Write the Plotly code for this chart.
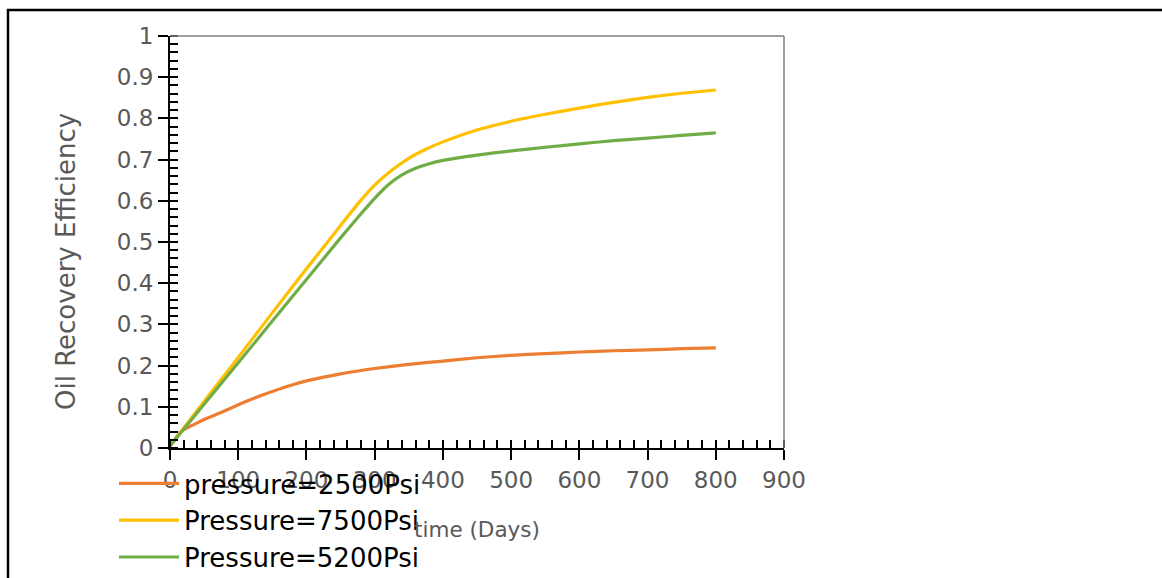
import plotly.graph_objects as go

# ---- data ----
days_2500 = [0, 5, 10, 15, 20, 30, 40, 50, 60, 80, 100, 125, 150, 175, 200, 250, 300,
             350, 400, 450, 500, 550, 600, 650, 700, 750, 800]
rec_2500 = [0.005, 0.017, 0.028, 0.038, 0.044, 0.053, 0.061, 0.069, 0.076, 0.090, 0.105,
            0.122, 0.137, 0.151, 0.163, 0.180, 0.193, 0.203, 0.211, 0.219, 0.225, 0.229,
            0.233, 0.236, 0.238, 0.241, 0.243]

days_7500 = [0, 50, 100, 150, 200, 250, 275, 300, 325, 350, 375, 400, 450, 500,
             550, 600, 650, 700, 750, 800]
rec_7500 = [0.005, 0.113, 0.220, 0.328, 0.435, 0.540, 0.592, 0.638, 0.674, 0.703, 0.725,
            0.743, 0.772, 0.793, 0.810, 0.825, 0.839, 0.851, 0.861, 0.869]

days_5200 = [0, 50, 100, 150, 200, 250, 275, 300, 320, 340, 360, 380, 400,
             450, 500, 550, 600, 650, 700, 750, 800]
rec_5200 = [0.005, 0.106, 0.207, 0.308, 0.409, 0.510, 0.559, 0.606, 0.639, 0.663, 0.679,
            0.690, 0.698, 0.711, 0.721, 0.730, 0.738, 0.746, 0.752, 0.759, 0.765]

series_names = ["pressure=2500Psi", "Pressure=7500Psi", "Pressure=5200Psi"]
series_colors = ["#ED7D31", "#FFC000", "#70AD47"]

x_ticks = [0, 100, 200, 300, 400, 500, 600, 700, 800, 900]
y_ticks = [0, 0.1, 0.2, 0.3, 0.4, 0.5, 0.6, 0.7, 0.8, 0.9, 1]
y_tick_text = ["0", "0.1", "0.2", "0.3", "0.4", "0.5", "0.6", "0.7", "0.8", "0.9", "1"]

FONT = "DejaVu Sans"
GREY = "#595959"

fig = go.Figure()
for i, (xs, ys) in enumerate([(days_2500, rec_2500), (days_7500, rec_7500), (days_5200, rec_5200)]):
    fig.add_trace(go.Scatter(
        x=xs, y=ys, mode="lines", name=series_names[i],
        line=dict(color=series_colors[i], width=3.2, shape="spline", smoothing=0.5),
        legendgroup=f"g{i}",
    ))

L, R, T, B = 170, 378, 36, 130
W, H = 1162, 578
pw, ph = W - L - R, H - T - B

def px_x(px):
    return (px - L) / pw

def px_y(py):
    return (H - B - py) / ph

fig.update_layout(
    width=W, height=H,
    margin=dict(l=L, r=R, t=T, b=B, pad=0, autoexpand=False),
    paper_bgcolor="white", plot_bgcolor="white",
    font=dict(family=FONT, size=23, color=GREY),
    showlegend=True,
    legend=dict(
        x=px_x(114), y=px_y(460), xanchor="left", yanchor="top",
        font=dict(family=FONT, size=26, color="black"),
        bgcolor="rgba(0,0,0,0)", itemwidth=60, tracegroupgap=8,
        traceorder="normal",
    ),
    xaxis=dict(
        range=[0, 900], tickvals=x_ticks, ticktext=[str(v) for v in x_ticks],
        showgrid=False, zeroline=False,
        showline=True, linecolor="black", linewidth=2,
        ticks="outside", ticklen=10, tickwidth=2, tickcolor="black",
        minor=dict(ticks="inside", dtick=20, ticklen=8, tickwidth=2, tickcolor="black", showgrid=False),
        tickfont=dict(family=FONT, size=23, color=GREY),
        title=dict(text="time (Days)", font=dict(family=FONT, size=21.5, color=GREY), standoff=30),
        automargin=False,
    ),
    yaxis=dict(
        range=[0, 1], tickvals=y_ticks, ticktext=y_tick_text,
        showgrid=False, zeroline=False,
        showline=True, linecolor="black", linewidth=2,
        ticks="outside", ticklen=10, tickwidth=2, tickcolor="black",
        minor=dict(ticks="inside", dtick=0.02, ticklen=8, tickwidth=2, tickcolor="black", showgrid=False),
        tickfont=dict(family=FONT, size=23, color=GREY),
        automargin=False,
    ),
    annotations=[
        dict(text="Oil Recovery Efficiency", xref="paper", yref="paper",
             x=px_x(66), y=px_y(262), xanchor="center", yanchor="middle",
             textangle=-90, showarrow=False,
             font=dict(family=FONT, size=26, color=GREY)),
    ],
    shapes=[
        dict(type="line", xref="paper", yref="paper", x0=0, x1=1, y0=1, y1=1,
             line=dict(color="#808080", width=1.5)),
        dict(type="line", xref="paper", yref="paper", x0=1, x1=1, y0=0, y1=1,
             line=dict(color="#808080", width=1.5)),
        dict(type="rect", xref="paper", yref="paper",
             x0=px_x(8), x1=px_x(1175), y0=px_y(600), y1=px_y(10),
             line=dict(color="black", width=2.5), layer="below"),
    ],
)

fig.write_html("out.html")
